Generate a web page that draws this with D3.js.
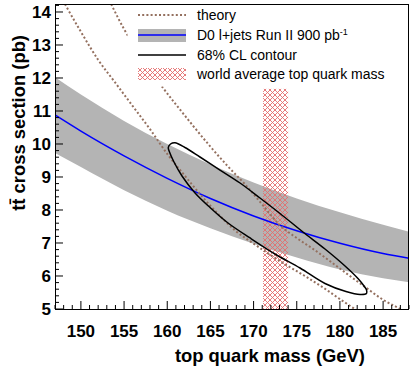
<!DOCTYPE html>
<html>
<head>
<meta charset="utf-8">
<title>ttbar cross section vs top mass</title>
<script src="https://d3js.org/d3.v7.min.js"></script>
<style>
  body { margin: 0; background: #fff; }
  text { font-family: "Liberation Sans", Arial, Helvetica, sans-serif; }
</style>
</head>
<body>
<svg id="chart" width="416" height="374"></svg>
<script>
// measured cross section vs assumed mass (blue line + grey band)
const bandMass  = [147, 150, 155, 160, 165, 170, 175, 180, 185, 188];
const fitXsec   = [10.88, 10.39, 9.64, 8.96, 8.35, 7.82, 7.37, 6.99, 6.68, 6.54];
const bandUpper = [12.02, 11.50, 10.70, 10.00, 9.38, 8.83, 8.35, 7.93, 7.55, 7.34];
const bandLower = [9.73, 9.30, 8.60, 7.98, 7.45, 6.98, 6.56, 6.20, 5.93, 5.81];

// theory curves (two dotted lines)
const theoryAMass = [148.15, 150, 152, 154, 156, 158, 160, 162, 164, 166, 168, 170, 172, 174, 176, 178, 180, 182];
const theoryAXsec = [14.24, 13.4, 12.55, 11.85, 11.15, 10.45, 9.70, 9.05, 8.42, 7.85, 7.35, 6.98, 6.63, 6.30, 5.99, 5.66, 5.30, 4.95];
const theoryBMass = [153.5, 155, 157, 159, 161, 163, 165, 167, 169, 171, 173, 175, 177, 179, 181, 183, 185, 187, 188];
const theoryBXsec = [14.24, 13.48, 12.65, 11.88, 11.2, 10.55, 9.92, 9.33, 8.78, 8.17, 7.55, 7.15, 6.80, 6.42, 6.03, 5.65, 5.28, 5.0, 4.85];

// 68% CL contour, points read around the curve (upper edge, then lower edge back)
const contourMass = [160.90, 162.06, 163.79, 166.11, 168.43, 170.74, 173.06, 175.72, 178.27, 180.59, 182.09, 182.79, 183.08,
                     183.08, 182.33, 180.70, 178.27, 175.38, 172.48, 169.59, 167.04, 164.95, 163.22, 161.71, 160.78, 160.26, 160.12, 160.38];
const contourXsec = [10.04, 9.894, 9.606, 9.212, 8.818, 8.364, 7.894, 7.333, 6.818, 6.303, 5.924, 5.697, 5.576,
                     5.470, 5.439, 5.530, 5.773, 6.242, 6.667, 7.152, 7.606, 8.076, 8.515, 9.030, 9.455, 9.758, 9.894, 10.0];

// world average top mass band
const worldMass = [171.1, 174.0];
const worldXsecTop = 11.67;

const xMajor = [150, 155, 160, 165, 170, 175, 180, 185];
const yMajor = [5, 6, 7, 8, 9, 10, 11, 12, 13, 14];

const legendLabels = ["theory", "D0 l+jets Run II 900 pb", "68% CL contour", "world average top quark mass"];

const frame = { left: 55, right: 409, top: 4, bottom: 309 };

const x = d3.scaleLinear().domain([147, 188]).range([frame.left, frame.right]);
const y = d3.scaleLinear().domain([5, 14.2424]).range([frame.bottom, frame.top]);

const svg = d3.select("#chart");
const defs = svg.append("defs");

defs.append("clipPath").attr("id", "plotclip")
  .append("rect")
  .attr("x", frame.left).attr("y", frame.top)
  .attr("width", frame.right - frame.left).attr("height", frame.bottom - frame.top);

const hatch = defs.append("pattern")
  .attr("id", "hatch")
  .attr("patternUnits", "userSpaceOnUse")
  .attr("width", 5).attr("height", 5);
hatch.append("path")
  .attr("d", "M0,0L5,5M0,5L5,0M-1,1L1,-1M4,6L6,4M-1,4L1,6M4,-1L6,1")
  .attr("stroke", "#e36d6d")
  .attr("stroke-width", 0.9)
  .attr("fill", "none");

const plot = svg.append("g").attr("clip-path", "url(#plotclip)");

// grey band
const bandData = bandMass.map((m, i) => ({ m: m, lo: bandLower[i], hi: bandUpper[i], c: fitXsec[i] }));
plot.append("path")
  .datum(bandData)
  .attr("fill", "#b4b4b4")
  .attr("d", d3.area().curve(d3.curveMonotoneX)
    .x(d => x(d.m)).y0(d => y(d.lo)).y1(d => y(d.hi)));

// world average hatch
plot.append("rect")
  .attr("x", x(worldMass[0]))
  .attr("y", y(worldXsecTop))
  .attr("width", x(worldMass[1]) - x(worldMass[0]))
  .attr("height", y(5) - y(worldXsecTop))
  .attr("fill", "url(#hatch)");

// central fit line
plot.append("path")
  .datum(bandData)
  .attr("fill", "none")
  .attr("stroke", "#0000ff")
  .attr("stroke-width", 1.5)
  .attr("d", d3.line().curve(d3.curveMonotoneX).x(d => x(d.m)).y(d => y(d.c)));

// theory lines
const theoryColor = "#94705f";
const theoryLine = d3.line().curve(d3.curveMonotoneX).x(d => x(d[0])).y(d => y(d[1]));
[[theoryAMass, theoryAXsec], [theoryBMass, theoryBXsec]].forEach(([ms, xs]) => {
  plot.append("path")
    .datum(ms.map((m, i) => [m, xs[i]]))
    .attr("fill", "none")
    .attr("stroke", theoryColor)
    .attr("stroke-width", 2)
    .attr("stroke-dasharray", "2,2.2")
    .attr("d", theoryLine);
});

// contour
plot.append("path")
  .datum(contourMass.map((m, i) => [m, contourXsec[i]]))
  .attr("fill", "none")
  .attr("stroke", "#000")
  .attr("stroke-width", 1.5)
  .attr("d", d3.line().curve(d3.curveCatmullRomClosed.alpha(0.5)).x(d => x(d[0])).y(d => y(d[1])));

// legend
const legend = svg.append("g");
legend.append("rect")
  .attr("x", 127.5).attr("y", frame.top + 0.5)
  .attr("width", frame.right - 128).attr("height", 82)
  .attr("fill", "#fff");

const lx0 = 138, lx1 = 186, ltx = 197;
const rowY = [15, 35, 55, 74];

legend.append("line")
  .attr("x1", lx0).attr("x2", lx1).attr("y1", rowY[0]).attr("y2", rowY[0])
  .attr("stroke", theoryColor).attr("stroke-width", 2).attr("stroke-dasharray", "2,2.2");

legend.append("rect")
  .attr("x", lx0).attr("y", 29).attr("width", lx1 - lx0).attr("height", 13)
  .attr("fill", "#b4b4b4");
legend.append("line")
  .attr("x1", lx0).attr("x2", lx1).attr("y1", rowY[1]).attr("y2", rowY[1])
  .attr("stroke", "#0000ff").attr("stroke-width", 1.5);

legend.append("line")
  .attr("x1", lx0).attr("x2", lx1).attr("y1", rowY[2]).attr("y2", rowY[2])
  .attr("stroke", "#000").attr("stroke-width", 1.5);

legend.append("rect")
  .attr("x", lx0).attr("y", 68).attr("width", lx1 - lx0).attr("height", 12)
  .attr("fill", "url(#hatch)");

legendLabels.forEach((t, i) => {
  const txt = legend.append("text")
    .attr("x", ltx).attr("y", rowY[i]).attr("dy", "0.36em")
    .attr("font-size", 14)
    .text(t);
  if (i === 1) {
    txt.append("tspan").attr("font-size", 9).attr("dy", "-0.55em").text("-1");
  }
});

// axes ticks (ROOT style, inside frame)
const axes = svg.append("g").attr("stroke", "#000").attr("stroke-width", 1);
d3.range(147, 188.01, 1).forEach(v => {
  const major = v % 5 === 0;
  axes.append("line")
    .attr("x1", x(v)).attr("x2", x(v))
    .attr("y1", frame.bottom).attr("y2", frame.bottom - (major ? 8 : 4));
});
d3.range(5, 14.21, 0.2).forEach(v => {
  const major = Math.abs(v - Math.round(v)) < 1e-6;
  axes.append("line")
    .attr("x1", frame.left).attr("x2", frame.left + (major ? 8 : 4))
    .attr("y1", y(v)).attr("y2", y(v));
});

svg.selectAll(".xl").data(xMajor).enter().append("text")
  .attr("x", d => x(d)).attr("y", 337)
  .attr("text-anchor", "middle")
  .attr("font-size", 17).attr("font-weight", "bold")
  .text(d => d);

svg.selectAll(".yl").data(yMajor).enter().append("text")
  .attr("x", 51).attr("y", d => y(d)).attr("dy", "0.36em")
  .attr("text-anchor", "end")
  .attr("font-size", 17).attr("font-weight", "bold")
  .text(d => d);

// frame
svg.append("rect")
  .attr("x", frame.left + 0.5).attr("y", frame.top + 0.5)
  .attr("width", frame.right - frame.left - 1).attr("height", frame.bottom - frame.top)
  .attr("fill", "none").attr("stroke", "#000").attr("stroke-width", 1);

// axis titles
svg.append("text")
  .attr("x", 365).attr("y", 362)
  .attr("text-anchor", "end")
  .attr("font-size", 18.4).attr("font-weight", "bold")
  .text("top quark mass (GeV)");

svg.append("text")
  .attr("transform", "translate(25,35) rotate(-90)")
  .attr("text-anchor", "end")
  .attr("font-size", 18.4).attr("font-weight", "bold")
  .text("tt\u0304 cross section (pb)");
</script>
</body>
</html>
